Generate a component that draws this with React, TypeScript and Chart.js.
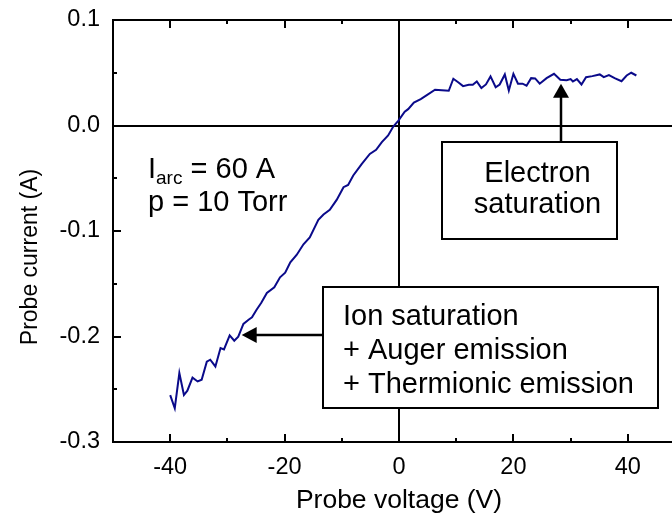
import React, { useEffect, useRef } from "react";
import { Chart, registerables } from "chart.js";

Chart.register(...registerables);

// ---------------- data ----------------
const voltage = [
  -40.0, -39.2, -38.4, -37.6, -37.0, -36.1, -35.2, -34.5, -33.6, -33.0,
  -32.1, -31.2, -30.6, -29.6, -28.8, -28.1, -27.2, -26.3, -25.7, -24.9,
  -24.1, -23.1, -21.8, -20.8, -19.9, -19.0, -17.9, -16.7, -15.6, -14.1,
  -13.2, -12.1, -10.9, -9.7, -8.9, -8.0, -6.5, -5.1, -4.0, -3.0,
  -1.9, -1.0, -0.1, 1.0, 1.6, 2.6, 3.8, 4.8, 6.3, 7.5,
  8.7, 9.5, 10.4, 11.2, 12.2, 12.9, 13.6, 14.4, 15.2, 16.0,
  16.9, 17.6, 18.5, 19.2, 20.0, 20.8, 21.6, 22.3, 23.1, 23.8,
  24.6, 25.8, 27.1, 28.2, 29.3, 30.0, 30.4, 31.1, 31.9, 32.7,
  33.8, 35.1, 35.8, 36.7, 37.7, 38.9, 39.8, 40.6, 41.5,
];
const current = [
  -0.2555, -0.268, -0.2346, -0.2555, -0.2514, -0.239, -0.2426, -0.241, -0.2239, -0.222,
  -0.2284, -0.2109, -0.2122, -0.199, -0.204, -0.2002, -0.1881, -0.1841, -0.1818, -0.1746,
  -0.1682, -0.1588, -0.1534, -0.1439, -0.1395, -0.1297, -0.1227, -0.1126, -0.106, -0.0895,
  -0.0844, -0.08, -0.0705, -0.0585, -0.0563, -0.0474, -0.0364, -0.0269, -0.0231, -0.0158,
  -0.0095, -0.001, 0.0047, 0.013, 0.0155, 0.0218, 0.025, 0.0285, 0.0339, 0.0335,
  0.0329, 0.0443, 0.0408, 0.0373, 0.0386, 0.0386, 0.0417, 0.0354, 0.0389, 0.0465,
  0.0363, 0.0389, 0.0484, 0.0332, 0.049, 0.0396, 0.0396, 0.0377, 0.0449, 0.0446,
  0.0396, 0.0449, 0.049, 0.0434, 0.043, 0.044, 0.0417, 0.044, 0.0389, 0.0458,
  0.0468, 0.0484, 0.0458, 0.0477, 0.0449, 0.042, 0.0474, 0.05, 0.0474,
];

const xMajorTicks = [-40, -20, 0, 20, 40];
const xMinorTicks = [-30, -10, 10, 30];
const yMajorTicks = [0.1, 0.0, -0.1, -0.2, -0.3];
const yMinorTicks = [0.05, -0.05, -0.15, -0.25];

const xTitle = "Probe voltage (V)";
const yTitle = "Probe current (A)";
const ionLines = ["Ion saturation", "+ Auger emission", "+ Thermionic emission"];
const electronLines = ["Electron", "saturation"];
const arcLabelMain = "I";
const arcLabelSub = "arc";
const arcLabelRest = " = 60 A";
const pressureLabel = "p = 10 Torr";

// annotation anchors (data units)
const ionArrowTip = [-27.5, -0.199];
const ionBox = [-13.3, -0.1534, 45.3, -0.2673];
const electronArrowTip = [28.4, 0.0396];
const electronBox = [7.46, -0.0158, 38.05, -0.1075];

const FONT = '"Liberation Sans", Arial, Helvetica, sans-serif';

function arrowHead(ctx: CanvasRenderingContext2D, tx: number, ty: number, dx: number, dy: number, len: number, half: number) {
  const bx = tx - dx * len, by = ty - dy * len;
  const px = -dy, py = dx;
  ctx.beginPath();
  ctx.moveTo(tx, ty);
  ctx.lineTo(bx + px * half, by + py * half);
  ctx.lineTo(bx - px * half, by - py * half);
  ctx.closePath();
  ctx.fill();
}

const annotPlugin = {
  id: "annot",
  beforeDatasetsDraw(chart: any) {
    const { ctx, chartArea: a, scales } = chart;
    const xs = scales.x, ys = scales.y;
    const x0 = Math.round(xs.getPixelForValue(0));
    const y0 = Math.round(ys.getPixelForValue(0));
    ctx.save();
    ctx.strokeStyle = "#000";
    ctx.lineWidth = 2;
    ctx.beginPath();
    ctx.moveTo(x0, a.top);
    ctx.lineTo(x0, a.bottom);
    ctx.moveTo(a.left, y0);
    ctx.lineTo(a.right, y0);
    ctx.stroke();
    ctx.restore();
  },
  afterDraw(chart: any) {
    const { ctx, chartArea: a, scales } = chart;
    const xs = scales.x, ys = scales.y;
    const L = Math.round(a.left), R = Math.round(a.right), T = Math.round(a.top), B = Math.round(a.bottom);
    ctx.save();
    ctx.strokeStyle = "#000";
    ctx.fillStyle = "#000";
    ctx.lineWidth = 2;
    ctx.lineCap = "butt";
    // frame
    ctx.strokeRect(L, T, R - L, B - T);
    // ticks (inward, mirrored)
    ctx.beginPath();
    const xt = (vals: number[], len: number) => {
      vals.forEach((v) => {
        const p = Math.round(xs.getPixelForValue(v));
        ctx.moveTo(p, B); ctx.lineTo(p, B - len);
        ctx.moveTo(p, T); ctx.lineTo(p, T + len);
      });
    };
    const yt = (vals: number[], len: number) => {
      vals.forEach((v) => {
        const p = Math.round(ys.getPixelForValue(v));
        ctx.moveTo(L, p); ctx.lineTo(L + len, p);
        ctx.moveTo(R, p); ctx.lineTo(R - len, p);
      });
    };
    xt(xMajorTicks, 8); xt(xMinorTicks, 4);
    yt(yMajorTicks, 8); yt(yMinorTicks, 4);
    ctx.stroke();

    // ion box + arrow
    const ibx0 = Math.round(xs.getPixelForValue(ionBox[0]));
    const iby0 = Math.round(ys.getPixelForValue(ionBox[1]));
    const ibx1 = Math.round(xs.getPixelForValue(ionBox[2]));
    const iby1 = Math.round(ys.getPixelForValue(ionBox[3]));
    ctx.fillStyle = "#fff";
    ctx.fillRect(ibx0, iby0, ibx1 - ibx0, iby1 - iby0);
    ctx.strokeRect(ibx0, iby0, ibx1 - ibx0, iby1 - iby0);
    const itx = xs.getPixelForValue(ionArrowTip[0]);
    const ity = Math.round(ys.getPixelForValue(ionArrowTip[1]));
    ctx.fillStyle = "#000";
    ctx.lineWidth = 2.5;
    ctx.beginPath();
    ctx.moveTo(ibx0, ity);
    ctx.lineTo(itx + 12, ity);
    ctx.stroke();
    arrowHead(ctx, itx, ity, -1, 0, 15, 8);

    // electron box + arrow
    const ebx0 = Math.round(xs.getPixelForValue(electronBox[0]));
    const eby0 = Math.round(ys.getPixelForValue(electronBox[1]));
    const ebx1 = Math.round(xs.getPixelForValue(electronBox[2]));
    const eby1 = Math.round(ys.getPixelForValue(electronBox[3]));
    ctx.lineWidth = 2;
    ctx.fillStyle = "#fff";
    ctx.fillRect(ebx0, eby0, ebx1 - ebx0, eby1 - eby0);
    ctx.strokeRect(ebx0, eby0, ebx1 - ebx0, eby1 - eby0);
    const etx = Math.round(xs.getPixelForValue(electronArrowTip[0]));
    const ety = ys.getPixelForValue(electronArrowTip[1]);
    ctx.fillStyle = "#000";
    ctx.lineWidth = 2.5;
    ctx.beginPath();
    ctx.moveTo(etx, eby0);
    ctx.lineTo(etx, ety + 12);
    ctx.stroke();
    arrowHead(ctx, etx, ety, 0, -1, 14, 8);

    // texts
    ctx.fillStyle = "#000";
    ctx.textBaseline = "alphabetic";
    ctx.font = `29px ${FONT}`;
    ctx.textAlign = "left";
    ionLines.forEach((t, i) => ctx.fillText(t, ibx0 + 20, iby0 + 38 + i * 34));
    ctx.textAlign = "center";
    const ecx = (ebx0 + ebx1) / 2 + 8;
    electronLines.forEach((t, i) => ctx.fillText(t, ecx, eby0 + 40 + i * 31));

    // condition text
    ctx.textAlign = "left";
    ctx.font = `29px ${FONT}`;
    let cx = 148;
    ctx.fillText(arcLabelMain, cx, 178);
    cx += ctx.measureText(arcLabelMain).width;
    ctx.font = `19px ${FONT}`;
    ctx.fillText(arcLabelSub, cx, 184);
    cx += ctx.measureText(arcLabelSub).width;
    ctx.font = `29px ${FONT}`;
    ctx.fillText(arcLabelRest, cx, 178);
    ctx.fillText(pressureLabel, 148, 211);

    // y axis title
    ctx.save();
    ctx.translate(31, 257);
    ctx.rotate(-Math.PI / 2);
    ctx.textAlign = "center";
    ctx.textBaseline = "middle";
    ctx.font = `23px ${FONT}`;
    ctx.fillText(yTitle, 0, 0);
    ctx.restore();

    ctx.restore();
  },
};

export default function App() {
  const ref = useRef<HTMLCanvasElement | null>(null);
  useEffect(() => {
    if (!ref.current) return;
    const points = voltage.map((v, i) => ({ x: v, y: current[i] }));
    const chart = new Chart(ref.current, {
      type: "line",
      data: {
        datasets: [
          {
            data: points,
            borderColor: "#0a0a8a",
            borderWidth: 2,
            pointRadius: 0,
            tension: 0,
            fill: false,
          },
        ],
      },
      options: {
        animation: false,
        responsive: false,
        devicePixelRatio: 1,
        layout: { padding: { left: 0, top: 20, right: 15, bottom: 0 } },
        plugins: { legend: { display: false }, tooltip: { enabled: false } },
        scales: {
          x: {
            type: "linear",
            min: -50,
            max: 50,
            afterBuildTicks: (s: any) => {
              s.ticks = xMajorTicks.map((v) => ({ value: v }));
            },
            afterFit: (s: any) => {
              s.height = 76;
              s.paddingLeft = 0;
              s.paddingRight = 0;
            },
            grid: { display: false, drawTicks: false, tickLength: 0 },
            border: { display: false },
            ticks: {
              color: "#000",
              font: { family: FONT, size: 23.5 },
              padding: 11,
              maxRotation: 0,
              callback: (v: any) => String(v),
            },
            title: {
              display: true,
              text: xTitle,
              color: "#000",
              font: { family: FONT, size: 26.5 },
              padding: { top: 0, bottom: 1 },
            },
          },
          y: {
            type: "linear",
            min: -0.3,
            max: 0.1,
            afterBuildTicks: (s: any) => {
              s.ticks = yMajorTicks.map((v) => ({ value: v }));
            },
            afterFit: (s: any) => {
              s.width = 113;
              s.paddingTop = 0;
              s.paddingBottom = 0;
            },
            grid: { display: false, drawTicks: false, tickLength: 0 },
            border: { display: false },
            ticks: {
              color: "#000",
              font: { family: FONT, size: 23.5 },
              padding: 13,
              callback: (v: any) => Number(v).toFixed(1),
            },
          },
        },
      },
      plugins: [annotPlugin],
    });
    return () => chart.destroy();
  }, []);
  return (
    <div
      style={{
        position: "fixed",
        left: 0,
        top: 0,
        width: 672,
        height: 518,
        overflow: "hidden",
        background: "#fff",
      }}
    >
      <canvas ref={ref} width={700} height={518} style={{ display: "block", width: 700, height: 518 }} />
    </div>
  );
}
